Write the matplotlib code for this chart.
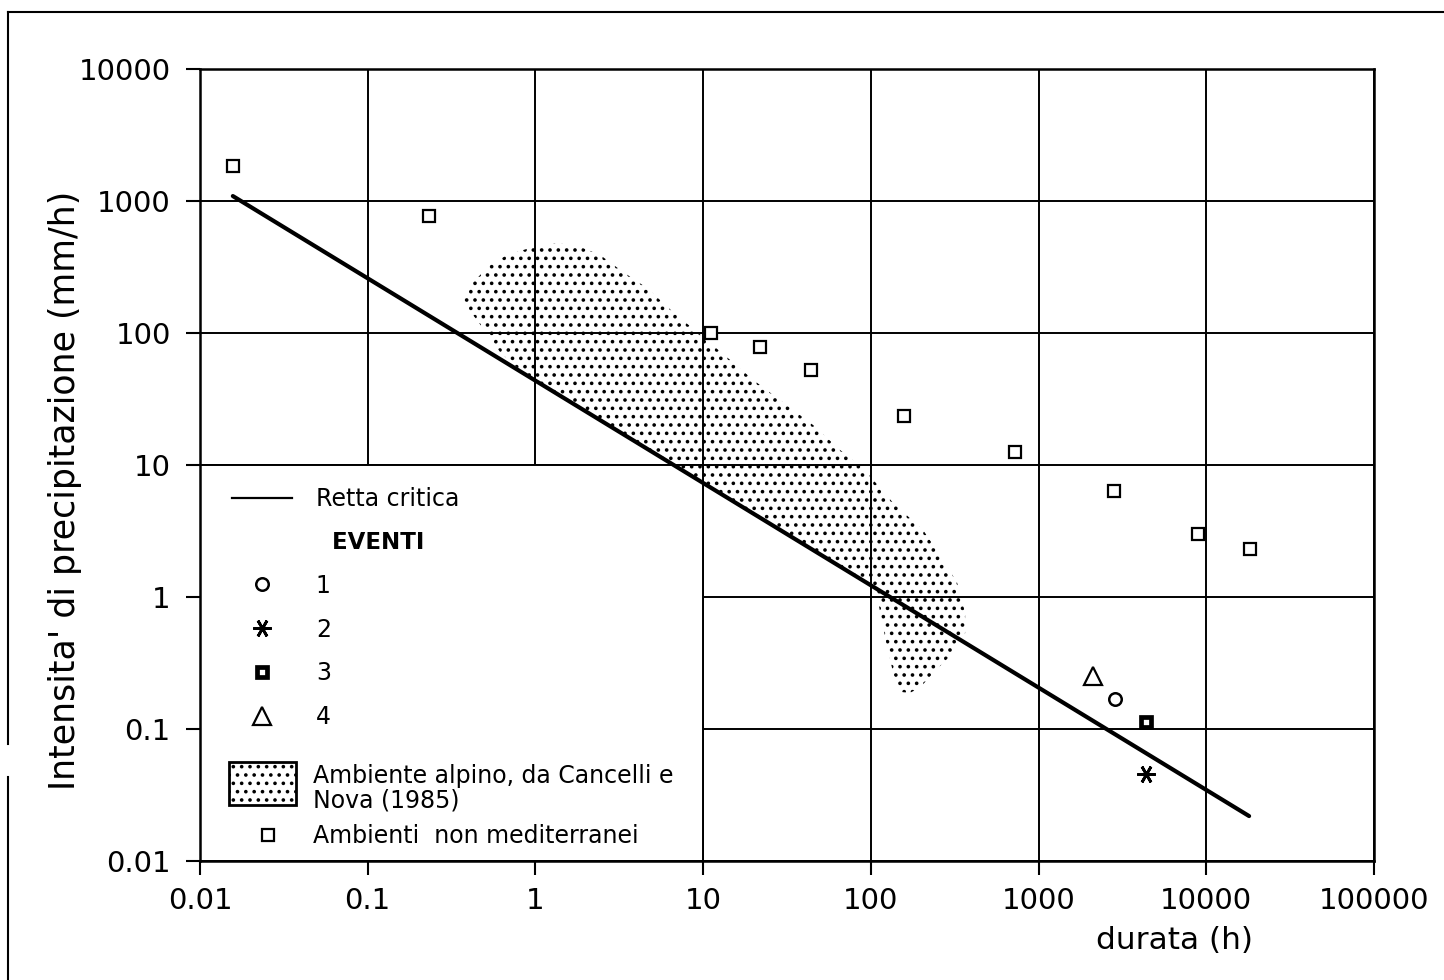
import matplotlib
matplotlib.use('Agg')
import matplotlib.pyplot as plt
from matplotlib.lines import Line2D
from matplotlib.patches import Polygon, Patch, Rectangle
from matplotlib.legend_handler import HandlerPatch
from matplotlib.ticker import FixedLocator, FixedFormatter, NullLocator

# retta critica: durata (h) -> intensita' (mm/h)
retta_durata = [0.0157, 18000]
retta_intensita = [1090, 0.0219]

# ambienti non mediterranei
ambienti_durata = [0.0157, 0.232, 11.1, 21.8, 44, 157, 722, 2830, 8960, 18100]
ambienti_intensita = [1840, 770, 100, 79, 52, 23.7, 12.6, 6.4, 3.0, 2.33]

# eventi 1-4
eventi_nomi = ['1', '2', '3', '4']
eventi_durata = [2870, 4400, 4400, 2100]
eventi_intensita = [0.17, 0.046, 0.113, 0.25]

# contorno ambiente alpino (Cancelli e Nova, 1985)
alpino_durata = [0.365, 0.425, 0.536, 0.678, 0.929, 1.35, 1.85, 2.43, 3.33, 4.63,
                 6.62, 9.98, 14.5, 19.9, 36.3, 45.2, 65.5, 89.7, 136, 205,
                 270, 327, 365, 365, 309, 235, 196, 171, 149, 136,
                 125, 114, 106, 10, 1, 0.843, 0.615, 0.449, 0.380]
alpino_intensita = [188, 243, 327, 390, 441, 481, 449, 390, 290, 219,
                    144, 93.3, 62.4, 44.1, 24.8, 20.1, 13.0, 9.48, 5.15, 3.21,
                    1.91, 1.28, 0.757, 0.533, 0.377, 0.265, 0.205, 0.188, 0.191, 0.265,
                    0.418, 0.757, 1.17, 7.33, 43.6, 49.8, 71.8, 125, 163]

tick_x = [0.01, 0.1, 1, 10, 100, 1000, 10000, 100000]
etichette_x = ['0.01', '0.1', '1', '10', '100', '1000', '10000', '100000']
tick_y = [0.01, 0.1, 1, 10, 100, 1000, 10000]
etichette_y = ['0.01', '0.1', '1', '10', '100', '1000', '10000']

# stile dei simboli
stili_eventi = {
    '1': dict(marker='o', markersize=9, markeredgewidth=1.8, markerfacecolor='white'),
    '2': dict(marker=(6, 2, 90), markersize=13, markeredgewidth=2.0),
    '3': dict(marker='s', markersize=6.5, markeredgewidth=3.4, markerfacecolor='white'),
    '4': dict(marker='^', markersize=13, markeredgewidth=1.6, markerfacecolor='white'),
}
stile_ambienti = dict(marker='s', markersize=8.5, markeredgewidth=1.6,
                      markerfacecolor='white', markeredgecolor='black')

plt.rcParams['font.family'] = ['DejaVu Sans']
plt.rcParams['hatch.linewidth'] = 1.4

W, H = 1444, 980
fig = plt.figure(figsize=(W / 100, H / 100), dpi=100)
ax = fig.add_axes([200 / W, 1 - 861 / H, 1174 / W, 792 / H])
ax.set_xscale('log')
ax.set_yscale('log')
ax.set_xlim(tick_x[0], tick_x[-1])
ax.set_ylim(tick_y[0], tick_y[-1])

ax.xaxis.set_major_locator(FixedLocator(tick_x))
ax.xaxis.set_major_formatter(FixedFormatter(etichette_x))
ax.yaxis.set_major_locator(FixedLocator(tick_y))
ax.yaxis.set_major_formatter(FixedFormatter(etichette_y))
ax.xaxis.set_minor_locator(NullLocator())
ax.yaxis.set_minor_locator(NullLocator())
ax.tick_params(direction='out', length=10, width=1.5, labelsize=21, color='black')
ax.tick_params(axis='x', pad=9)
ax.tick_params(axis='y', pad=11)

ax.set_axisbelow(True)
ax.grid(True, which='major', color='black', linewidth=1.4)
for s in ax.spines.values():
    s.set_linewidth(1.8)

# riquadro bianco della legenda (copre la griglia)
ax.add_patch(Rectangle((0.01, 0.01), 10 - 0.01, 10 - 0.01, facecolor='white',
                       edgecolor='black', linewidth=1.4, zorder=0.8))

# area punteggiata
ax.add_patch(Polygon(list(zip(alpino_durata, alpino_intensita)), closed=True,
                     facecolor='none', edgecolor='black', linewidth=0,
                     hatch='..', zorder=1))

ax.plot(retta_durata, retta_intensita, color='black', linewidth=3.0,
        solid_capstyle='round', zorder=2)

ax.plot(ambienti_durata, ambienti_intensita, linestyle='none', zorder=3, **stile_ambienti)

for nome, d, i in zip(eventi_nomi, eventi_durata, eventi_intensita):
    ax.plot([d], [i], linestyle='none', color='black', markeredgecolor='black',
            zorder=3, **stili_eventi[nome])

# legenda 1: retta critica + eventi
h_legenda1 = [Line2D([], [], color='black', linewidth=1.6),
              Line2D([], [], linestyle='none')]
etichette1 = ['Retta critica', '  EVENTI']
for nome in eventi_nomi:
    h_legenda1.append(Line2D([], [], linestyle='none', color='black',
                             markeredgecolor='black', **stili_eventi[nome]))
    etichette1.append(nome)

leg1 = ax.legend(h_legenda1, etichette1, loc='upper left',
                 bbox_to_anchor=(232 / W, 1 - 487 / H), bbox_transform=fig.transFigure,
                 frameon=False, borderpad=0, borderaxespad=0, fontsize=17,
                 handlelength=2.55, handletextpad=1.0, labelspacing=0.84, numpoints=1)
leg1.get_texts()[1].set_fontweight('bold')
leg1.get_texts()[1].set_fontsize(16.5)
ax.add_artist(leg1)


# riquadro punteggiato alto quanto le due righe di testo
def riquadro_alto(legend, orig_handle, xdescent, ydescent, width, height, fontsize):
    return Rectangle((-xdescent, -0.3 * fontsize), width, 1.82 * fontsize)


h_alpino = Patch(facecolor='white', edgecolor='black', hatch='..', linewidth=2)
leg2 = ax.legend([h_alpino], ['Ambiente alpino, da Cancelli e\nNova (1985)'],
                 loc='lower left', bbox_to_anchor=(229 / W, 1 - 812 / H),
                 bbox_transform=fig.transFigure, frameon=False, borderpad=0,
                 borderaxespad=0, fontsize=17, handlelength=2.84, handletextpad=0.72,
                 handler_map={Patch: HandlerPatch(patch_func=riquadro_alto)})
leg2.get_texts()[0].set_linespacing(1.0)
ax.add_artist(leg2)

ax.legend([Line2D([], [], linestyle='none', **stile_ambienti)],
          ['Ambienti  non mediterranei'], loc='center left',
          bbox_to_anchor=(256 / W, 1 - 836 / H), bbox_transform=fig.transFigure,
          frameon=False, borderpad=0, borderaxespad=0, fontsize=17,
          handlelength=1.0, handletextpad=1.4, numpoints=1)

fig.text(65 / W, 1 - 490 / H, "Intensita' di precipitazione (mm/h)", rotation=90,
         ha='center', va='center', fontsize=25)
fig.text(1175 / W, 1 - 940 / H, 'durata (h)', ha='center', va='center', fontsize=22.5)

# cornice esterna
cornice = dict(transform=fig.transFigure, color='black', linewidth=1.5)
fig.add_artist(Line2D([8 / W, 1], [1 - 12 / H, 1 - 12 / H], **cornice))
fig.add_artist(Line2D([8 / W, 8 / W], [1 - 12 / H, 1 - 744 / H], **cornice))
fig.add_artist(Line2D([8 / W, 8 / W], [1 - 777 / H, 0], **cornice))

fig.savefig('out.png', dpi=100)
